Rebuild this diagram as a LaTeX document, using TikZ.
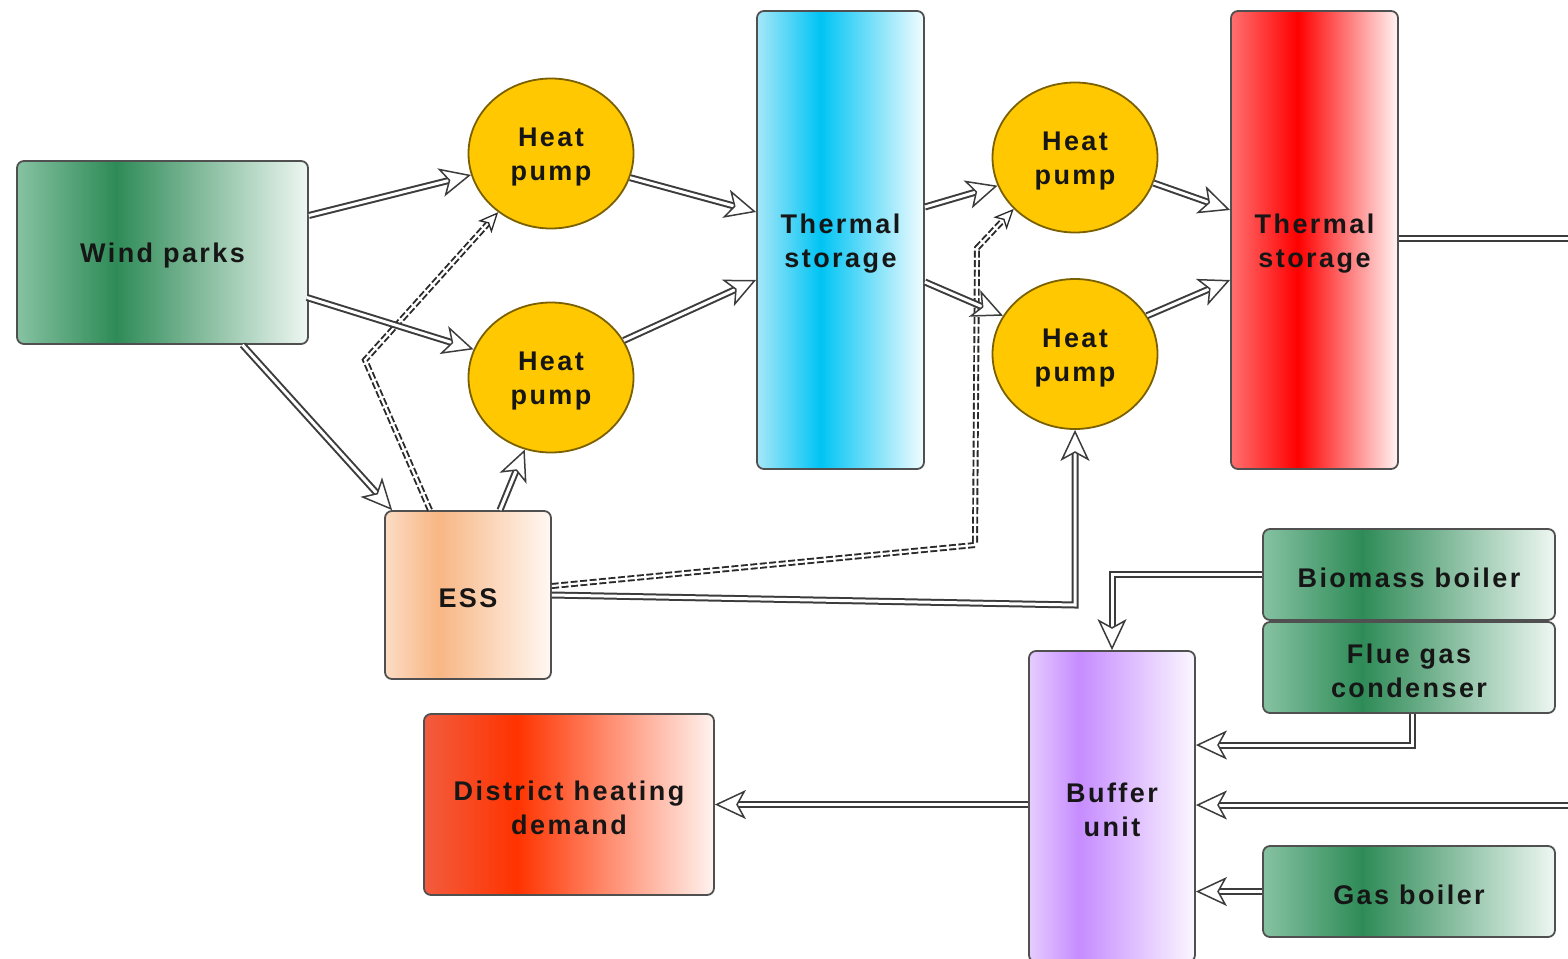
\documentclass[tikz,border=0pt]{standalone}
\usepackage{fontspec}
\newfontfamily\labfont{Liberation Sans}[LetterSpace=9]
\usetikzlibrary{arrows.meta,shapes.geometric,calc}
\newcommand\labtext{\labfont\bfseries\fontsize{27}{34}\selectfont}
\newcommand\upstrut{\rule{0pt}{26pt}}

\definecolor{lineC}{HTML}{3C3C3C}
\definecolor{dashC}{HTML}{2A2A2A}
\definecolor{borderC}{HTML}{505050}
\definecolor{textC}{HTML}{161616}
\definecolor{hpC}{HTML}{FFC800}
\definecolor{hpB}{HTML}{7A6000}
% green
\definecolor{gL}{HTML}{86C2A2}
\definecolor{gD}{HTML}{2E8B57}
\definecolor{gR}{HTML}{EEF7F2}
% blue
\definecolor{bL}{HTML}{A6E7F8}
\definecolor{bD}{HTML}{00C4F4}
\definecolor{bR}{HTML}{F2FCFF}
% red
\definecolor{rL}{HTML}{FF7070}
\definecolor{rD}{HTML}{FF0000}
\definecolor{rR}{HTML}{FFF4F4}
% purple
\definecolor{pL}{HTML}{E6CCFF}
\definecolor{pD}{HTML}{C68CFF}
\definecolor{pR}{HTML}{FBF7FF}
% district
\definecolor{dL}{HTML}{F25C3E}
\definecolor{dD}{HTML}{FF3300}
\definecolor{dR}{HTML}{FFF3EF}
% ess
\definecolor{eL}{HTML}{FCDCC4}
\definecolor{eD}{HTML}{F8B684}
\definecolor{eR}{HTML}{FFF8F3}

\pgfdeclarehorizontalshading{shGreen}{100bp}{color(0bp)=(gL); color(25bp)=(gL); color(42bp)=(gD); color(75bp)=(gR); color(100bp)=(gR)}
\pgfdeclarehorizontalshading{shBlue}{100bp}{color(0bp)=(bL); color(25bp)=(bL); color(44bp)=(bD); color(75bp)=(bR); color(100bp)=(bR)}
\pgfdeclarehorizontalshading{shRed}{100bp}{color(0bp)=(rL); color(25bp)=(rL); color(45bp)=(rD); color(75bp)=(rR); color(100bp)=(rR)}
\pgfdeclarehorizontalshading{shPurple}{100bp}{color(0bp)=(pL); color(25bp)=(pL); color(40bp)=(pD); color(75bp)=(pR); color(100bp)=(pR)}
\pgfdeclarehorizontalshading{shDist}{100bp}{color(0bp)=(dL); color(25bp)=(dL); color(41bp)=(dD); color(75bp)=(dR); color(100bp)=(dR)}
\pgfdeclarehorizontalshading{shEss}{100bp}{color(0bp)=(eL); color(25bp)=(eL); color(41bp)=(eD); color(75bp)=(eR); color(100bp)=(eR)}

\tikzset{
  tipA/.tip={Stealth[open, fill=white, color=lineC, line width=1.5pt, length=31pt, width=29pt, inset=8pt]},
  tipB/.tip={Stealth[open, fill=white, color=dashC, line width=1.3pt, length=20pt, width=18pt, inset=5pt]},
  pipe/.style={draw=lineC, line width=7pt, shorten >=10pt,
    postaction={draw=white, line width=3pt, shorten >=0pt, -{tipA}}},
  pipeN/.style={draw=lineC, line width=7pt, postaction={draw=white, line width=3pt}},
  dpipe/.style={draw=dashC, line width=6pt, dash pattern=on 7pt off 2.5pt, shorten >=7pt,
    postaction={draw=white, line width=2.2pt, solid, shorten >=0pt, -{tipB}}},
  box/.style={rectangle, rounded corners=7pt, draw=borderC, line width=1.8pt, inner sep=0pt,
    align=center, font=\labtext, text=textC},
  hp/.style={ellipse, minimum width=165pt, minimum height=150pt, fill=hpC, draw=hpB,
    line width=1.8pt, inner sep=0pt, align=center, font=\labtext, text=textC},
}

\begin{document}
\begin{tikzpicture}[x=1pt, y=-1pt]
\useasboundingbox (0,0) rectangle (1568,958);
\clip (0,0) rectangle (1568,958);

% nodes
\node[box, shading=shGreen, minimum width=291pt, minimum height=183pt] (Wind) at (162.5,252.5) {\upstrut Wind parks};
\node[hp] (HP1) at (551,153.5) {\upstrut Heat\\pump};
\node[hp] (HP2) at (551,377.5) {\upstrut Heat\\pump};
\node[box, shading=shBlue, minimum width=167pt, minimum height=458pt] (T1) at (840.5,240) {\upstrut Thermal\\storage};
\node[hp] (HP3) at (1075,157.5) {\upstrut Heat\\pump};
\node[hp] (HP4) at (1075,354) {\upstrut Heat\\pump};
\node[box, shading=shRed, minimum width=167pt, minimum height=458pt] (T2) at (1314.5,240) {\upstrut Thermal\\storage};
\node[box, shading=shEss, minimum width=166pt, minimum height=168pt] (ESS) at (468,595) {\upstrut ESS};
\node[box, shading=shDist, minimum width=290pt, minimum height=181pt] (Dist) at (569,804.5) {\upstrut District heating\\demand};
\node[box, shading=shPurple, minimum width=166pt, minimum height=311pt] (Buffer) at (1112,806.5) {\upstrut Buffer\\unit};
\node[box, shading=shGreen, minimum width=292pt, minimum height=91pt] (Bio) at (1409,574.5) {\upstrut Biomass boiler};
\node[box, shading=shGreen, minimum width=292pt, minimum height=91pt] (Flue) at (1409,667.5) {\upstrut Flue gas\\condenser};
\node[box, shading=shGreen, minimum width=292pt, minimum height=91pt] (Gas) at (1409,891.5) {\upstrut Gas boiler};

% helper coordinates
\coordinate (d1) at (365,360);
\coordinate (d2) at (975,545);
\coordinate (d3) at (977,248);
\coordinate (c1) at (1075,605);
\coordinate (c3) at (1412,745);
\coordinate (o1) at (1575,238);
\coordinate (o2) at (1575,805);

% dashed connectors
\draw[dpipe] ($(ESS.north)+(-38,0)$) -- (d1) -- (HP1.228);
\draw[dpipe] ($(ESS.east)+(0,-9)$) -- (d2) -- (d3) -- (HP3.220);

% solid connectors
\draw[pipe] ($(Wind.east)+(0,-37)$) -- (HP1.195);
\draw[pipe] ($(Wind.east)+(-2,45)$) -- (HP2.160);
\draw[pipe] ($(Wind.south)+(80,0)$) -- ($(ESS.north west)+(8,0)$);
\draw[pipe] ($(ESS.north)+(32,0)$) -- (HP2.250);
\draw[pipe] (HP1.-17) -- ($(T1.west)+(0,-28)$);
\draw[pipe] (HP2.27) -- ($(T1.west)+(0,40)$);
\draw[pipe] ($(T1.east)+(0,-33)$) -- (HP3.200);
\draw[pipe] ($(T1.east)+(0,42)$) -- (HP4.152);
\draw[pipe] (HP3.-18) -- ($(T2.west)+(0,-30)$);
\draw[pipe] (HP4.28) -- ($(T2.west)+(0,40)$);
\draw[pipe] (ESS.east) -- (c1) -- (HP4.south);
\draw[pipeN] ($(T2.east)+(0,-2)$) -- (o1);
\draw[pipe] (o2) -- (Buffer.east |- o2);
\draw[pipe] (Bio.west) -- (Buffer.north |- Bio.west) -- (Buffer.north);
\draw[pipe] ($(Flue.south)+(3,0)$) -- (c3) -- (Buffer.east |- c3);
\draw[pipe] (Gas.west) -- (Buffer.east |- Gas.west);
\draw[pipe] (Buffer.west |- Dist.east) -- (Dist.east);
\end{tikzpicture}
\end{document}
